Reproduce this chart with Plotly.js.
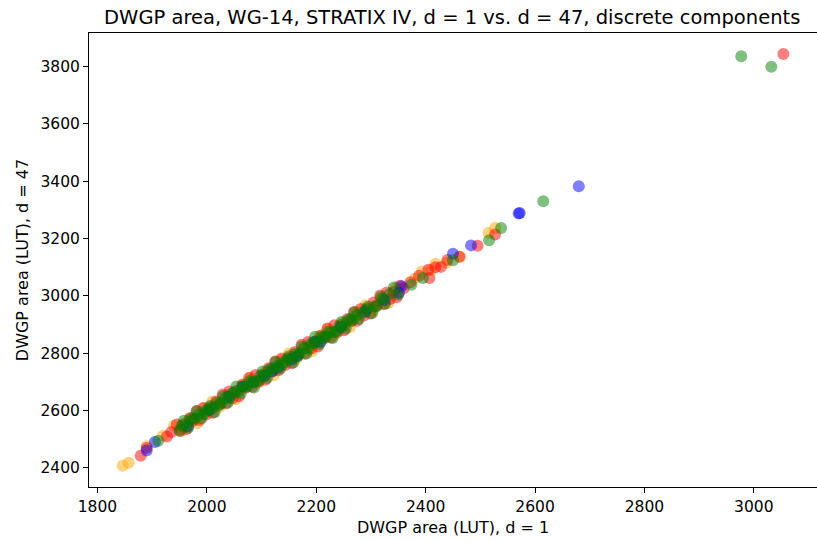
<!DOCTYPE html>
<html>
<head>
<meta charset="utf-8">
<script src="https://cdn.plot.ly/plotly-3.0.1.min.js"></script>
<style>html,body{margin:0;padding:0;background:#fff}#chart{width:817px;height:541px}</style>
</head>
<body>
<div id="chart"></div>
<script>
// Series values (x: d = 1, y: d = 47)
const redX = [1879,1890,1927,1935,1945,1951,1957,1963,1969,1975,1981,1987,1993,1999,2005,2011,2017,2023,2029,2035,2041,2047,2053,2059,2065,2071,2077,2083,2089,2095,2101,2107,2113,2119,2125,2131,2137,2143,2149,2155,2161,2167,2173,2179,2185,2191,2197,2203,2209,2215,2221,2227,2233,2239,2245,2251,2257,2263,2269,2275,2281,2287,2293,2299,2305,2311,2317,2323,2329,2335,2341,2347,2353,2360,2372,2388,2405,2407,2418,2428,2440,2462,2495,2527,3054];
const redY = [2442,2469,2509,2525,2551,2528,2552,2535,2574,2564,2598,2567,2609,2586,2610,2592,2631,2622,2656,2625,2666,2643,2668,2650,2689,2679,2713,2683,2724,2701,2725,2707,2747,2737,2771,2740,2781,2759,2783,2765,2804,2794,2829,2798,2839,2816,2840,2823,2862,2852,2886,2855,2897,2874,2898,2880,2919,2910,2944,2913,2954,2931,2956,2938,2977,2967,3001,2971,3012,2989,3013,2995,3035,3026,3047,3070,3091,3062,3100,3101,3125,3136,3175,3214,3844];

const greenX = [1911,1950,1958,1966,1974,1982,1990,1998,2006,2014,2022,2030,2038,2046,2054,2062,2070,2078,2086,2094,2102,2110,2118,2126,2134,2142,2150,2158,2166,2174,2182,2190,2198,2206,2214,2222,2230,2238,2246,2254,2262,2270,2278,2286,2294,2302,2310,2318,2326,2334,2342,2350,2374,2395,2450,2516,2538,2615,2977,3032,
  1954,1962,1970,1978,1986,1994,2002,2010,2018,2026,2034,2042,2050,2058,2066,2074,2082,2090,2098,2106,2114,2122,2130,2138,2146,2154,2162,2170,2178,2186,2194,2202,2210,2218,2226,2234,2242,2250,2258,2266,2274,2290,2306,2322];
const greenY = [2494,2531,2564,2540,2574,2597,2573,2597,2616,2594,2617,2650,2627,2660,2684,2659,2683,2703,2680,2704,2736,2713,2747,2770,2746,2769,2789,2767,2790,2823,2799,2833,2857,2832,2856,2875,2853,2877,2909,2886,2919,2943,2919,2942,2962,2939,2963,2996,2972,3006,3029,3005,3039,3062,3124,3194,3237,3330,3836,3799,
  2547,2549,2568,2571,2586,2587,2603,2608,2626,2626,2643,2644,2663,2667,2683,2684,2700,2702,2721,2723,2741,2741,2757,2760,2778,2781,2798,2799,2816,2817,2836,2839,2856,2857,2873,2875,2893,2896,2914,2914,2931,2951,2963,2990];

const orangeX = [1846,1857,1890,1920,1940,1954,1968,1982,1996,2010,2024,2038,2052,2066,2080,2094,2108,2122,2136,2150,2164,2178,2192,2206,2220,2234,2248,2262,2276,2290,2304,2318,2332,2346,2380,2393,2410,2418,2438,2462,2515,2527];
const orangeY = [2407,2418,2475,2512,2547,2529,2569,2555,2608,2631,2613,2653,2639,2692,2715,2697,2737,2723,2776,2799,2781,2821,2807,2860,2883,2865,2905,2891,2944,2967,2949,2989,2975,3028,3060,3085,3090,3112,3115,3136,3219,3237];

const blueX = [1890,1905,1965,2005,2040,2065,2085,2105,2119,2130,2155,2165,2198,2208,2245,2290,2325,2351,2356,2450,2483,2570,2572,2680];
const blueY = [2460,2490,2545,2602,2648,2684,2698,2720,2736,2750,2778,2789,2841,2840,2890,2945,2985,3011,3033,3147,3176,3287,3289,3382];

const xTicks = [1800,2000,2200,2400,2600,2800,3000];
const yTicks = [2400,2600,2800,3000,3200,3400,3600,3800];

function series(x, y, color) {
  return {x: x, y: y, type: 'scatter', mode: 'markers',
    marker: {color: color, opacity: 0.5, size: 12, line: {width: 0}},
    hoverinfo: 'skip'};
}

const data = [
  series(orangeX, orangeY, 'orange'),
  series(redX, redY, 'red'),
  series(blueX, blueY, 'blue'),
  series(greenX, greenY, 'green')
];

const axisCommon = {
  showgrid: false, zeroline: false, showline: true, linecolor: '#000', linewidth: 1,
  mirror: true, ticks: 'outside', ticklen: 5, tickwidth: 1, tickcolor: '#000',
  tickfont: {family: 'DejaVu Sans', size: 15.5, color: '#000'}
};

const layout = {
  width: 817, height: 541,
  margin: {l: 89, r: 0, t: 33, b: 54},
  paper_bgcolor: '#fff', plot_bgcolor: '#fff',
  showlegend: false,
  font: {family: 'DejaVu Sans', color: '#000'},
  title: {text: 'DWGP area, WG-14, STRATIX IV, d = 1 vs. d = 47, discrete components',
          font: {family: 'DejaVu Sans', size: 19.5, color: '#000'},
          x: 0.5535, xanchor: 'center', y: 0.968, yanchor: 'middle'},
  xaxis: Object.assign({}, axisCommon, {
    range: [1784.5, 3115.5], tickvals: xTicks, ticktext: xTicks.map(String),
    title: {text: 'DWGP area (LUT), d = 1', font: {family: 'DejaVu Sans', size: 16, color: '#000'}, standoff: 7}
  }),
  yaxis: Object.assign({}, axisCommon, {
    range: [2333, 3917], tickvals: yTicks, ticktext: yTicks.map(String),
    title: {text: 'DWGP area (LUT), d = 47', font: {family: 'DejaVu Sans', size: 16, color: '#000'}, standoff: 7}
  })
};

Plotly.newPlot('chart', data, layout, {staticPlot: true, displayModeBar: false});
</script>
</body>
</html>
